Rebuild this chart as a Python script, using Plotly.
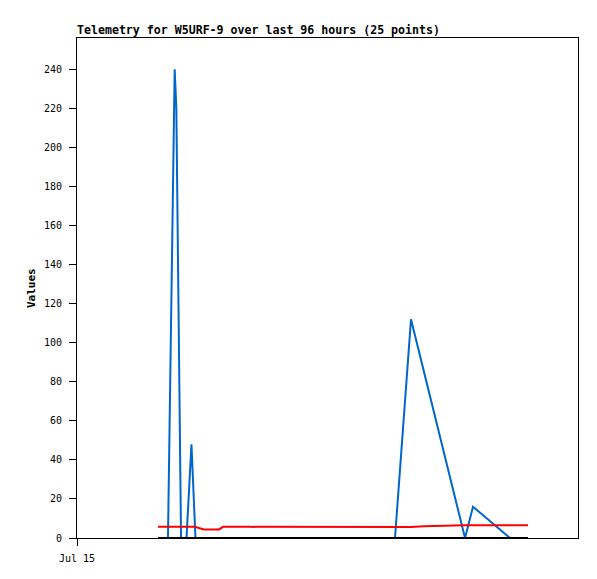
import plotly.graph_objects as go

# Timestamps of the 25 telemetry points
times = [
    "2024-07-15 15:31", "2024-07-15 17:26", "2024-07-15 18:43", "2024-07-15 19:02",
    "2024-07-15 19:56", "2024-07-15 20:59", "2024-07-15 21:56", "2024-07-15 22:42",
    "2024-07-15 23:11", "2024-07-16 00:20", "2024-07-16 03:13", "2024-07-16 03:59",
    "2024-07-16 09:09", "2024-07-16 18:44", "2024-07-17 04:19", "2024-07-17 12:56",
    "2024-07-17 16:00", "2024-07-17 18:29", "2024-07-17 23:40", "2024-07-18 02:21",
    "2024-07-18 03:53", "2024-07-18 07:08", "2024-07-18 10:58", "2024-07-18 12:53",
    "2024-07-18 14:25",
]
blue_values = [0, 0, 240, 220, 0, 0, 48, 0, 0, 0, 0, 0, 0, 0, 0, 0,
               112, 85, 29, 0, 16, 8.6, 0, 0, 0]
red_values = [5.7, 5.7, 5.7, 5.7, 5.7, 5.7, 5.7, 5.7, 5.2, 4.4, 4.4, 5.7,
              5.7, 5.7, 5.7, 5.6, 5.6, 6.0, 6.5, 6.5, 6.5, 6.5, 6.5, 6.5, 6.5]
black_values = [0] * 25

x_tick_vals = ["2024-07-15 00:00"]
x_tick_text = ["Jul 15"]
x_range = ["2024-07-15 00:00", "2024-07-19 00:00"]
y_tick_vals = list(range(0, 241, 20))

MONO = "DejaVu Sans Mono"
W, H = 589, 571  # page body has an 8px margin

fig = go.Figure()
fig.add_trace(go.Scatter(x=times, y=blue_values, mode="lines",
                         line=dict(color="#0066CC", width=2), showlegend=False))
fig.add_trace(go.Scatter(x=times, y=red_values, mode="lines",
                         line=dict(color="#FF0000", width=2), showlegend=False))
fig.add_trace(go.Scatter(x=times, y=black_values, mode="lines",
                         line=dict(color="#000000", width=2), showlegend=False))

fig.update_layout(
    width=W, height=H,
    margin=dict(l=69, r=19, t=30, b=41),
    paper_bgcolor="white", plot_bgcolor="white",
    font=dict(family=MONO, size=10, color="black"),
    title=dict(text="<b>Telemetry for W5URF-9 over last 96 hours (25 points)</b>",
               x=69 / W, xanchor="left", xref="container",
               y=1 - 22 / H, yanchor="middle", yref="container",
               font=dict(family=MONO, size=11.6, color="black")),
    xaxis=dict(range=x_range, tickvals=x_tick_vals, ticktext=x_tick_text,
               ticks="outside", ticklen=7, tickcolor="black", ticklabelstandoff=4,
               showline=True, linecolor="black", linewidth=1, mirror=True,
               showgrid=False, zeroline=False),
    yaxis=dict(range=[0, 256], tickvals=y_tick_vals,
               ticks="outside", ticklen=7, tickcolor="black", ticklabelstandoff=5,
               showline=True, linecolor="black", linewidth=1, mirror=True,
               showgrid=False, zeroline=False),
    annotations=[dict(text="<b>Values</b>", textangle=-90,
                      xref="paper", yref="paper",
                      x=(31 - 77) / 501, y=0.5, xanchor="center", yanchor="middle",
                      showarrow=False, font=dict(family=MONO, size=11, color="black"))],
)

fig.write_html("out.html")
